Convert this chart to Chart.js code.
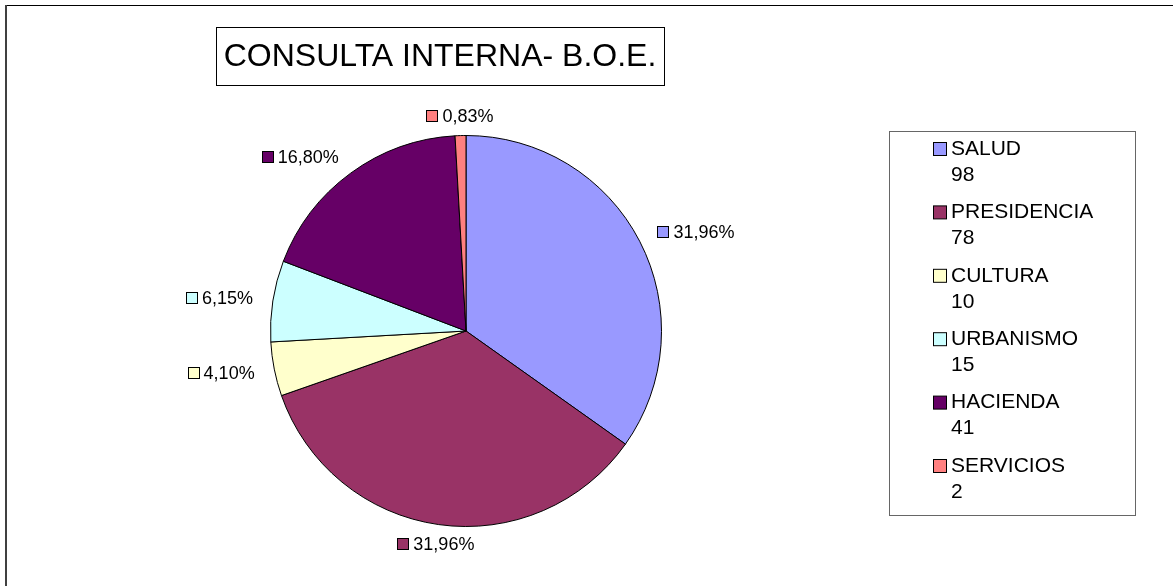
<!DOCTYPE html>
<html>
<head>
<meta charset="utf-8">
<script src="https://cdn.jsdelivr.net/npm/chart.js@4/dist/chart.umd.min.js"></script>
<style>
  html, body { margin: 0; padding: 0; background: #fff; }
  canvas { display: block; }
</style>
</head>
<body>
<canvas id="consultaPie" width="1173" height="586"></canvas>
<script>
// datos de la hoja
const titulo = "CONSULTA INTERNA- B.O.E.";
const categorias = ["SALUD", "PRESIDENCIA", "CULTURA", "URBANISMO", "HACIENDA", "SERVICIOS"];
const consultas = [98, 78, 10, 15, 41, 2];          // numeros de la leyenda
const sectores = [78, 78, 10, 15, 41, 2];           // tamaño de los sectores tal como se dibujan
const porcentajes = ["31,96%", "31,96%", "4,10%", "6,15%", "16,80%", "0,83%"];
const colores = ["#9999ff", "#993366", "#ffffcc", "#ccffff", "#660066", "#ff8080"];

const FONT = "'Liberation Sans', Arial, sans-serif";

// === marco, titulo y leyenda ===
const marcoPlugin = {
  id: "marco",
  beforeDraw(chart) {
    const c = chart.ctx;
    c.save();
    c.fillStyle = "#fff";
    c.fillRect(0, 0, chart.width, chart.height);
    c.fillStyle = "#000";
    c.fillRect(5, 5, chart.width - 5, 1);
    c.fillStyle = "#404040";
    c.fillRect(5, 5, 2, chart.height - 5);
    c.restore();
  },
  afterDraw(chart) {
    const c = chart.ctx;
    c.save();
    // titulo en caja
    c.strokeStyle = "#000";
    c.lineWidth = 1;
    c.strokeRect(216.5, 27.5, 448, 58);
    c.fillStyle = "#000";
    c.font = "32px " + FONT;
    c.textAlign = "center";
    c.textBaseline = "middle";
    c.fillText(titulo, 440, 57);

    // leyenda
    c.strokeStyle = "#666";
    c.strokeRect(889.5, 131.5, 246, 384);
    c.font = "21px " + FONT;
    c.textAlign = "left";
    categorias.forEach((cat, i) => {
      const y = 149 + i * 63.4;
      c.fillStyle = colores[i];
      c.fillRect(933.5, y - 6.5, 13, 13);
      c.strokeStyle = "#000";
      c.strokeRect(933.5, y - 6.5, 13, 13);
      c.fillStyle = "#000";
      c.fillText(cat, 951, y);
      c.fillText(String(consultas[i]), 951, y + 26);
    });
    c.restore();
  }
};

// === etiquetas de porcentaje fuera del pastel ===
const etiquetasPlugin = {
  id: "etiquetas",
  afterDatasetsDraw(chart) {
    const c = chart.ctx;
    const meta = chart.getDatasetMeta(0);
    c.save();
    c.font = "18px " + FONT;
    c.textBaseline = "middle";
    meta.data.forEach((arc, i) => {
      const p = arc.getProps(["x", "y", "startAngle", "endAngle", "outerRadius"], true);
      const mid = (p.startAngle + p.endAngle) / 2;
      const dx = Math.cos(mid), dy = Math.sin(mid);
      const ax = p.x + (p.outerRadius + 20) * dx;
      const ay = p.y + (p.outerRadius + 20) * dy;
      const txt = porcentajes[i];
      const w = 12 + 4 + c.measureText(txt).width;
      let left;
      if (dx > 0.3) left = ax;
      else if (dx < -0.3) left = ax - w;
      else left = ax - w / 2;
      const sq = Math.round(left) + 0.5;
      const yy = Math.round(ay);
      c.fillStyle = colores[i];
      c.fillRect(sq, yy - 5.5, 11, 11);
      c.strokeStyle = "#000";
      c.lineWidth = 1;
      c.strokeRect(sq, yy - 5.5, 11, 11);
      c.fillStyle = "#000";
      c.textAlign = "left";
      c.fillText(txt, left + 16, yy + 1);
    });
    c.restore();
  }
};

new Chart(document.getElementById("consultaPie"), {
  type: "pie",
  data: {
    labels: categorias,
    datasets: [{
      data: sectores,
      backgroundColor: colores,
      borderColor: "#000",
      borderWidth: 1
    }]
  },
  options: {
    responsive: false,
    animation: false,
    layout: { padding: { left: 270, right: 511, top: 135, bottom: 59 } },
    plugins: {
      legend: { display: false },
      tooltip: { enabled: false },
      title: { display: false }
    }
  },
  plugins: [marcoPlugin, etiquetasPlugin]
});
</script>
</body>
</html>
